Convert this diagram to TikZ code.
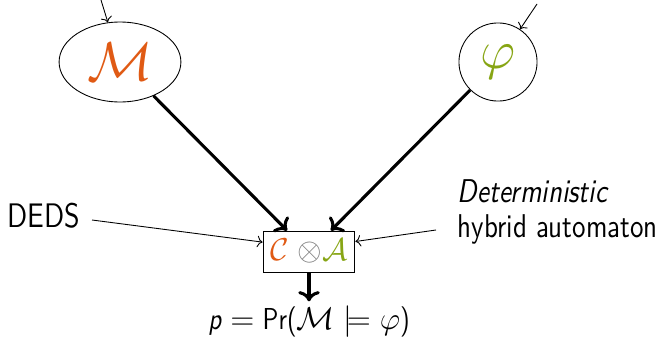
\documentclass[tikz,border=0pt]{standalone}
\usepackage{fontspec}
\usepackage{tkz-euclide}
\usetikzlibrary{shapes.geometric}
\setsansfont{lmsans10-regular.otf}[ItalicFont=lmsans10-oblique.otf,FakeStretch=0.82]
\renewcommand{\familydefault}{\sfdefault}
\definecolor{mcolor}{RGB}{224,90,20}
\definecolor{phicolor}{RGB}{135,165,20}
\begin{document}
\begin{tikzpicture}[x=0.016cm,y=-0.016cm,
    lbl/.style={font=\fontsize{14}{14.6}\selectfont},
    thin arrow/.style={->,thin},
    thick arrow/.style={->,line width=1.4pt}]
            \useasboundingbox (0,0) rectangle (660,342);
            \tkzDefPoint(101,0){m0}
            \tkzDefPoint(537,4){s0}
            \tkzDefPoint(92,220){d0}
            \tkzDefPoint(436,230){h0}
            \node[draw,ellipse,minimum width=1.95cm,minimum height=1.28cm,inner sep=0pt] (model) at (120,62) {\Huge$\color{mcolor}\mathcal{M}$};
            \node[draw,circle,minimum size=1.25cm,inner sep=0pt] (spec) at (498,62) {\Huge$\color{phicolor}\varphi$};
            \node[draw,minimum width=1.47cm,minimum height=0.656cm,inner sep=0pt,lbl] (prod) at (309,251.5) {$\color{mcolor}\mathcal{C}$ {\color{gray}$\otimes$}$\color{phicolor}\mathcal{A}$};
            \node[font=\fontsize{15.5}{18}\selectfont] (deds) at (44,216) {DEDS};
            \node[font=\fontsize{15}{15.6}\selectfont,anchor=west,align=left] (hybrid) at (450,212) {\textit{Deterministic}\\hybrid automaton};
            \node[font=\fontsize{13.8}{17}\selectfont,inner sep=2pt] (prob) at (309,322) {\textit{p} $=$ Pr($\mathcal{M}\models\varphi$)};
            \draw[thin arrow] (m0) -- (model);
            \draw[thin arrow] (s0) -- (spec);
            \draw[thin arrow] (d0) -- ([yshift=0.15cm]prod.west);
            \draw[thin arrow] (h0) -- ([yshift=0.16cm]prod.east);
            \draw[thick arrow] (model) -- ([xshift=-0.35cm]prod.north);
            \draw[thick arrow] (spec) -- ([xshift=0.35cm]prod.north);
            \draw[thick arrow] (prod.south) -- (prod.south |- prob.north);
        \end{tikzpicture}
\end{document}
